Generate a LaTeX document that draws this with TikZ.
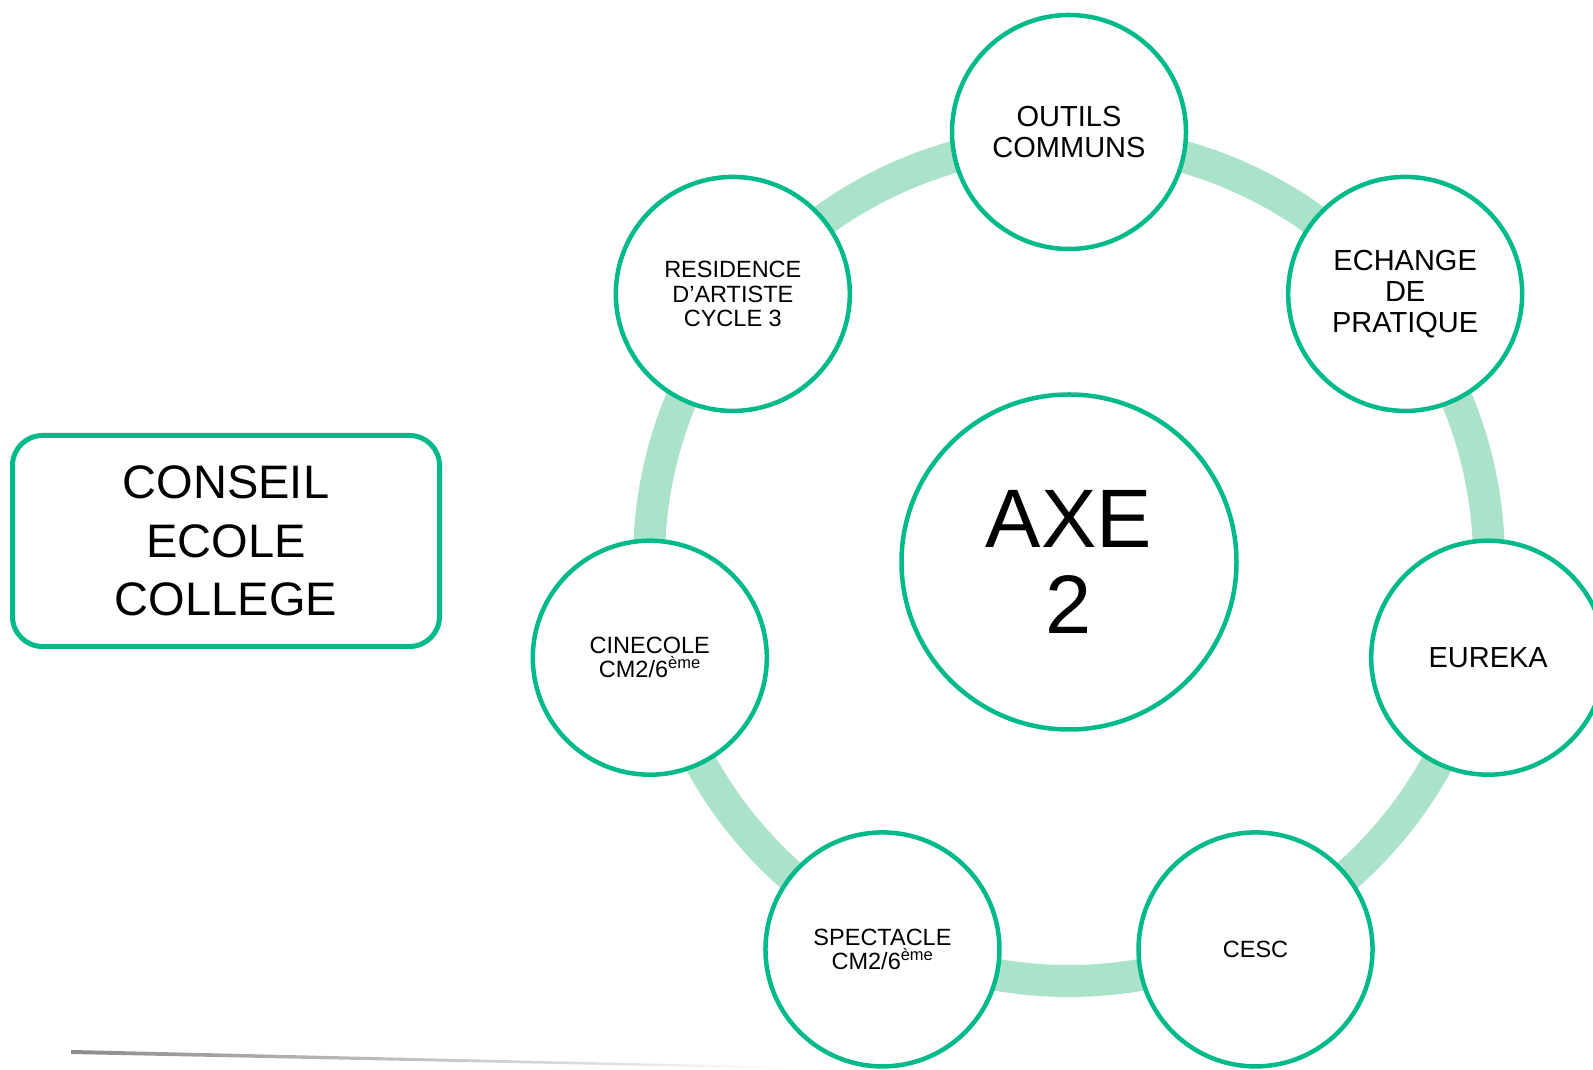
\documentclass[tikz,border=0pt]{standalone}
\usepackage{fontspec}
\setmainfont{Liberation Sans}
\usetikzlibrary{positioning,calc}
\definecolor{vert}{HTML}{00BA8A}
\definecolor{vertclair}{HTML}{ABE2CA}
\tikzset{
  bulle/.style={circle, draw=vert, line width=4.5pt, fill=white, minimum size=234pt, inner sep=0pt, align=center},
  petit/.style={font=\fontsize{23.5}{24.4}\selectfont},
  moyen/.style={font=\fontsize{29}{31}\selectfont},
}
\begin{document}
\begin{tikzpicture}[x=1pt,y=1pt]
\useasboundingbox (0,0) rectangle (1593,1070);
% anneau
\coordinate (centre) at (1069,508);
\draw[vertclair, line width=32pt] (1069,509) circle (420);
% axe central
\node[bulle, minimum size=335pt, font=\fontsize{83}{86}\selectfont] (axe) at (centre) {AXE\\2};
% bulles
\node[bulle, moyen] (outils) at ($(centre)+(90:430)$) {OUTILS\\COMMUNS};
\node[bulle, moyen] (echange) at ($(centre)+(38.57:430)$) {ECHANGE\\DE\\PRATIQUE};
\node[bulle, moyen] (eureka) at ($(centre)+(-12.86:430)$) {EUREKA};
\node[bulle, petit] (cesc) at ($(centre)+(-64.29:430)$) {CESC};
\node[bulle, petit] (spectacle) at ($(centre)+(-115.71:430)$) {SPECTACLE\\CM2/6\textsuperscript{ème}};
\node[bulle, petit] (cinecole) at ($(centre)+(-167.14:430)$) {CINECOLE\\CM2/6\textsuperscript{ème}};
\node[bulle, petit] (residence) at ($(centre)+(141.43:430)$) {RESIDENCE\\D’ARTISTE\\CYCLE 3};
% cadre
\node[draw=vert, line width=5pt, rounded corners=30pt, minimum width=427pt, minimum height=211pt,
      align=center, font=\fontsize{47}{58.5}\selectfont] (conseil) at (226,529) {CONSEIL\\ECOLE\\COLLEGE};
% trait gris
\shade[left color=gray!90, right color=white] (71,20) -- (800,3) -- (800,1) -- (71,16) -- cycle;
\end{tikzpicture}
\end{document}
